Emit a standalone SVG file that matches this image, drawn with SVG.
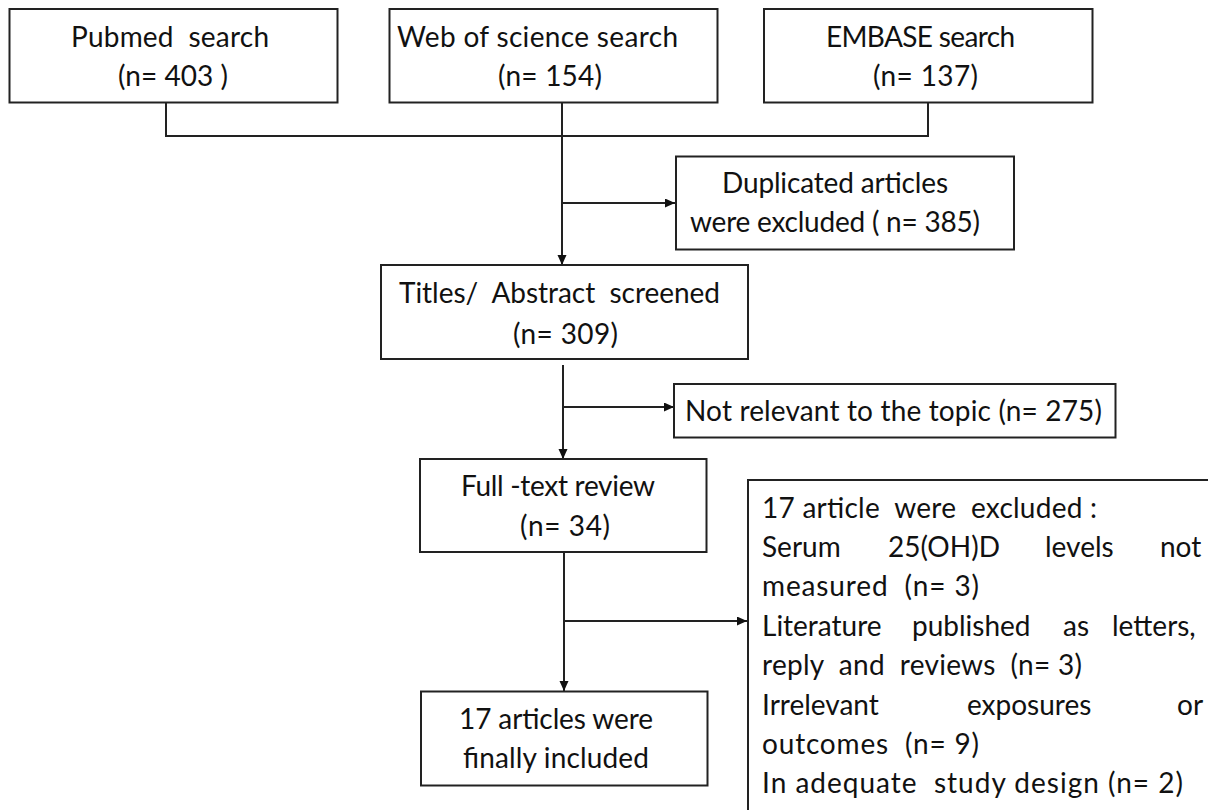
<svg xmlns="http://www.w3.org/2000/svg" width="1208" height="810" viewBox="0 0 1208 810">
<style>
.box{fill:#fff;stroke:#222;stroke-width:2}
.t{font-family:Lato,"Liberation Sans",sans-serif;font-size:28px;fill:#111;white-space:pre}
.c{fill:none;stroke:#222;stroke-width:2}
</style>
<defs>
<marker id="ah" markerUnits="userSpaceOnUse" markerWidth="12" markerHeight="10" refX="10" refY="4.5" orient="auto">
<path d="M0,0 L10,4.5 L0,9 z" fill="#111"/>
</marker>
</defs>
<rect width="1208" height="810" fill="#fff"/>
<g id="connectors">
<path class="c" d="M166,103 V136 H928 V103"/>
<path class="c" d="M562,103 V265" marker-end="url(#ah)"/>
<path class="c" d="M562,203 H675" marker-end="url(#ah)"/>
<path class="c" d="M563,365 V459" marker-end="url(#ah)"/>
<path class="c" d="M563,407 H674" marker-end="url(#ah)"/>
<path class="c" d="M564,552 V691" marker-end="url(#ah)"/>
<path class="c" d="M564,621 H747" marker-end="url(#ah)"/>
</g>
<g id="pubmed">
<rect class="box" x="9.5" y="9" width="328" height="93.5"/>
<text class="t" xml:space="preserve" x="71" y="47" textLength="198">Pubmed  search</text>
<text class="t" xml:space="preserve" x="118" y="86" textLength="110">(n= 403 )</text>
</g>
<g id="wos">
<rect class="box" x="389.5" y="9" width="328" height="93.5"/>
<text class="t" xml:space="preserve" x="397" y="47" textLength="281">Web of science search</text>
<text class="t" xml:space="preserve" x="498" y="86" textLength="104">(n= 154)</text>
</g>
<g id="embase">
<rect class="box" x="764" y="9" width="328.5" height="93.5"/>
<text class="t" xml:space="preserve" x="826" y="47" textLength="189">EMBASE search</text>
<text class="t" xml:space="preserve" x="873" y="86" textLength="105">(n= 137)</text>
</g>
<g id="duplicated">
<rect class="box" x="676" y="156.5" width="338" height="93"/>
<text class="t" xml:space="preserve" x="722" y="193" textLength="226">Duplicated articles</text>
<text class="t" xml:space="preserve" x="690" y="232" textLength="290">were excluded ( n= 385)</text>
</g>
<g id="titles">
<rect class="box" x="381" y="265" width="367" height="94"/>
<text class="t" xml:space="preserve" x="399" y="303" textLength="321">Titles/  Abstract  screened</text>
<text class="t" xml:space="preserve" x="513" y="344" textLength="105">(n= 309)</text>
</g>
<g id="notrelevant">
<rect class="box" x="674" y="384" width="441.5" height="53.5"/>
<text class="t" xml:space="preserve" x="685" y="421" textLength="417">Not relevant to the topic (n= 275)</text>
</g>
<g id="fulltext">
<rect class="box" x="420" y="459" width="286.5" height="93"/>
<text class="t" xml:space="preserve" x="461" y="496" textLength="194">Full -text review</text>
<text class="t" xml:space="preserve" x="520" y="536" textLength="90">(n= 34)</text>
</g>
<g id="included">
<rect class="box" x="421" y="691.5" width="286.5" height="94"/>
<text class="t" xml:space="preserve" x="459" y="729" textLength="194">17 articles were</text>
<text class="t" xml:space="preserve" x="463" y="768" textLength="186">finally included</text>
</g>
<g id="excluded">
<rect class="box" x="748" y="480" width="500" height="400"/>
<text class="t" xml:space="preserve" x="762" y="517.5" textLength="335">17 article  were  excluded :</text>
<text class="t" y="557"><tspan x="762">Serum</tspan><tspan x="888">25(OH)D</tspan><tspan x="1045">levels</tspan><tspan x="1160">not</tspan></text>
<text class="t" xml:space="preserve" x="762" y="596" textLength="217">measured  (n= 3)</text>
<text class="t" y="635.7"><tspan x="762">Literature</tspan><tspan x="912">published</tspan><tspan x="1063">as</tspan><tspan x="1112">letters,</tspan></text>
<text class="t" xml:space="preserve" x="762" y="675" textLength="320">reply  and  reviews  (n= 3)</text>
<text class="t" y="714.5"><tspan x="762">Irrelevant</tspan><tspan x="967">exposures</tspan><tspan x="1177">or</tspan></text>
<text class="t" xml:space="preserve" x="762" y="754" textLength="217">outcomes  (n= 9)</text>
<text class="t" xml:space="preserve" x="762" y="793.3" textLength="421">In adequate  study design (n= 2)</text>
</g>
</svg>
